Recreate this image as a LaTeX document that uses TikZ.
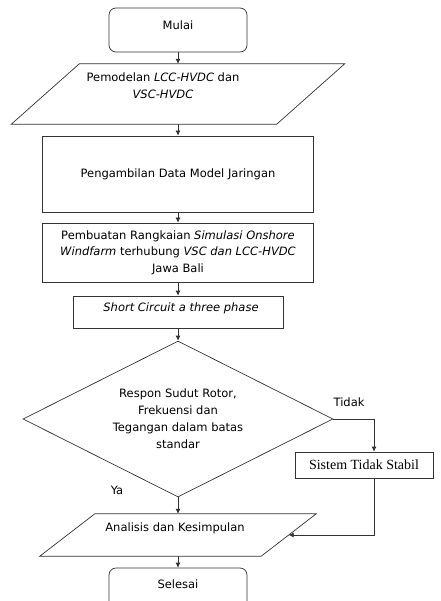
\documentclass[tikz,border=0pt]{standalone}
\usepackage{fontspec}
\setmainfont{DejaVu Sans}
\newfontfamily\serifbox{Liberation Serif}
\usetikzlibrary{arrows.meta,shapes.geometric}

\begin{document}
\begin{tikzpicture}[x=1pt,y=-1pt,
  font=\fontsize{11.5}{17}\selectfont,
  line/.style={draw=black!80, line width=0.7pt},
  terminal/.style={line, rectangle, rounded corners=7pt, minimum width=138pt, minimum height=44pt, inner sep=0pt},
  process/.style={line, rectangle, inner sep=0pt, align=center},
  io/.style={rectangle, inner sep=0pt, align=center},
  decision/.style={line, diamond, aspect=2, inner sep=0pt, align=center},
  flow/.style={line, -{Latex[length=5pt,width=5pt]}}]
\useasboundingbox (0,0) rectangle (440,601);
\clip (0,0) rectangle (440,601);

\node[terminal, label={[yshift=5pt]center:Mulai}] (mulai) at (178,30) {};
\node[io, minimum width=333pt, minimum height=60pt,
      label={[xshift=-15pt,yshift=8pt,align=center]center:Pemodelan \textit{LCC-HVDC} dan\\\textit{VSC-HVDC}}]
      (model) at (178,94) {};
\draw[line] ([xshift=68pt]model.north west) -- (model.north east)
      -- ([xshift=-68pt]model.south east) -- (model.south west) -- cycle;
\node[process, minimum width=271pt, minimum height=76pt] (data) at (178,174)
      {Pengambilan Data Model Jaringan};
\node[process, minimum width=271pt, minimum height=59pt] (rangkai) at (178,252.5)
      {Pembuatan Rangkaian \textit{Simulasi Onshore}\\[-0.5pt]\textit{Windfarm} terhubung \textit{VSC dan LCC-HVDC}\\[-0.5pt]Jawa Bali};
\node[process, minimum width=210pt, minimum height=32pt,
      label={[xshift=3pt,yshift=4pt]center:\textit{Short Circuit a three phase}}] (hubung) at (178,312) {};
\node[decision, minimum width=310pt, minimum height=156pt] (respon) at (178,419)
      {Respon Sudut Rotor,\\Frekuensi dan\\Tegangan dalam batas\\standar};
\node[process, minimum width=138pt, minimum height=26pt,
      font=\serifbox\fontsize{14}{16}\selectfont] (stabil) at (364,465) {Sistem Tidak Stabil};
\node[io, minimum width=276pt, minimum height=42pt,
      label={[xshift=-3pt,yshift=7pt]center:Analisis dan Kesimpulan}] (analisis) at (178,535) {};
\draw[line] ([xshift=55pt]analisis.north west) -- (analisis.north east)
      -- ([xshift=-55pt]analisis.south east) -- (analisis.south west) -- cycle;
\node[terminal, label={[yshift=6pt]center:Selesai}] (selesai) at (178,590) {};

\node (tidak) at (349,402) {Tidak};
\node (ya) at (117,490) {Ya};

% alur utama
\draw[flow] (mulai.south) -- (model.north);
\draw[flow] (model.south) -- (data.north);
\draw[flow] (data.south) -- (rangkai.north);
\draw[flow] (rangkai.south) -- (hubung.north);
\draw[flow] (hubung.south) -- (respon.north);
\draw[flow] (respon.south) -- (analisis.north);
\draw[flow] (analisis.south) -- (selesai.north);

% cabang tidak
\draw[flow] (respon.east) -| ([xshift=10pt]stabil.north);
\draw[flow] ([xshift=10pt]stabil.south) |- ([xshift=-27.5pt]analisis.east);
\end{tikzpicture}
\end{document}
